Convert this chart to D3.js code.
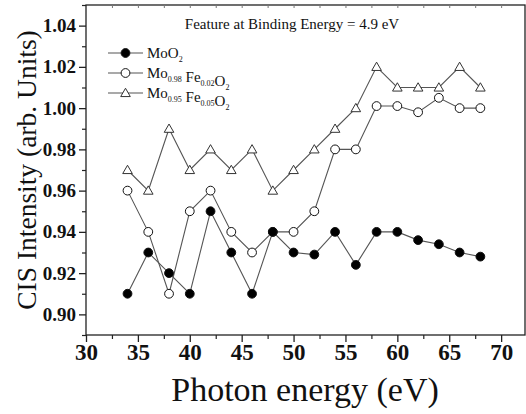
<!DOCTYPE html>
<html><head><meta charset="utf-8">
<script src="https://cdn.jsdelivr.net/npm/d3@7"></script>
<style>body{margin:0;background:#fff}svg{display:block}</style>
</head><body>
<svg id="c" width="526" height="414" style="font-family:'Liberation Serif','Times New Roman',serif"></svg>
<script>
const energies = [34,36,38,40,42,44,46,48,50,52,54,56,58,60,62,64,66,68];
const moo2 =   [0.91,0.93,0.92,0.91,0.95,0.93,0.91,0.94,0.93,0.929,0.94,0.924,0.94,0.94,0.936,0.934,0.93,0.928];
const fe002 =  [0.96,0.94,0.91,0.95,0.96,0.94,0.93,0.94,0.94,0.95,0.98,0.98,1.001,1.001,0.998,1.005,1.0,1.0];
const fe005 =  [0.97,0.96,0.99,0.97,0.98,0.97,0.98,0.96,0.97,0.98,0.99,1.00,1.02,1.01,1.01,1.01,1.02,1.01];
const xTicks = [30,35,40,45,50,55,60,65,70];
const yTicks = [0.90,0.92,0.94,0.96,0.98,1.00,1.02,1.04];

const FF = "'Liberation Serif','Times New Roman',serif";
const svg = d3.select("#c");
const L=86, R=525, T=5, B=335;
const x = d3.scaleLinear().domain([30,72.3]).range([L,R]);
const y = d3.scaleLinear().domain([0.89,1.05]).range([B,T]);

svg.append("rect").attr("x",L).attr("y",T).attr("width",R-L).attr("height",B-T)
  .attr("fill","none").attr("stroke","#222").attr("stroke-width",1.3);

const xAx = svg.append("g").attr("transform",`translate(0,${B})`)
  .call(d3.axisBottom(x).tickValues(xTicks).tickFormat(d3.format("d")).tickSize(7).tickPadding(2));
xAx.attr("font-family",FF);
xAx.select(".domain").remove();
xAx.selectAll("text").style("font-family",FF).style("font-size","23px").style("font-weight","bold").attr("fill","#111");
xAx.selectAll("line").attr("stroke","#222").attr("stroke-width",1.3);
const xMinor = svg.append("g").attr("transform",`translate(0,${B})`)
  .call(d3.axisBottom(x).tickValues(d3.range(32.5,72,5)).tickFormat("").tickSize(4));
xMinor.select(".domain").remove();
xMinor.selectAll("line").attr("stroke","#222").attr("stroke-width",1.2);
const xTop = svg.append("g").attr("transform",`translate(0,${T})`)
  .call(d3.axisTop(x).tickValues(d3.range(32.5,72.3,2.5)).tickFormat("").tickSize(-3));
xTop.select(".domain").remove();
xTop.selectAll("line").attr("stroke","#777").attr("stroke-width",1);

const yAx = svg.append("g").attr("transform",`translate(${L},0)`)
  .call(d3.axisLeft(y).tickValues(yTicks).tickFormat(d3.format(".2f")).tickSize(7).tickPadding(3));
yAx.attr("font-family",FF);
yAx.select(".domain").remove();
yAx.selectAll("text").style("font-family",FF).style("font-size","19px").style("font-weight","bold").attr("fill","#111");
yAx.selectAll("line").attr("stroke","#222").attr("stroke-width",1.3);
const yMinor = svg.append("g").attr("transform",`translate(${L},0)`)
  .call(d3.axisLeft(y).tickValues(d3.range(0.89,1.05,0.02).map(v=>+v.toFixed(2))).tickFormat("").tickSize(4));
yMinor.select(".domain").remove();
yMinor.selectAll("line").attr("stroke","#222").attr("stroke-width",1.2);

svg.append("text").attr("x",305).attr("y",401).attr("text-anchor","middle")
  .style("font-family",FF).style("font-size","34px").attr("fill","#111").text("Photon energy (eV)");
svg.append("text").attr("transform",`translate(36,170) rotate(-90)`).attr("text-anchor","middle")
  .style("font-family",FF).style("font-size","27.5px").attr("fill","#111").text("CIS Intensity (arb. Units)");

svg.append("text").attr("x",292).attr("y",29).attr("text-anchor","middle")
  .style("font-family",FF).style("font-size","15px").attr("fill","#111").text("Feature at Binding Energy = 4.9 eV");

const series = [
  {vals: fe005, shape:"tri", fill:"#fff"},
  {vals: fe002, shape:"circ", fill:"#fff"},
  {vals: moo2, shape:"circ", fill:"#000"}
];
const line = d3.line().x((d,i)=>x(energies[i])).y(d=>y(d));
const tri = d3.symbol().type(d3.symbolTriangle).size(40);
function drawMarker(g, shape, fill, cx, cy){
  if(shape==="circ"){
    g.append("circle").attr("cx",cx).attr("cy",cy).attr("r",4.4)
     .attr("fill",fill).attr("stroke","#111").attr("stroke-width",1);
  } else {
    g.append("path").attr("d",tri()).attr("transform",`translate(${cx},${cy+0.8})`)
     .attr("fill",fill).attr("stroke","#333").attr("stroke-width",1);
  }
}
series.forEach(s=>{
  svg.append("path").datum(s.vals).attr("d",line).attr("fill","none")
    .attr("stroke","#555").attr("stroke-width",1.1);
});
series.forEach(s=>{
  const g = svg.append("g");
  s.vals.forEach((v,i)=>drawMarker(g,s.shape,s.fill,x(energies[i]),y(v)));
});

const leg = [
  {shape:"circ", fill:"#000", parts:[["MoO","2"]]},
  {shape:"circ", fill:"#fff", parts:[["Mo","0.98"],[" Fe","0.02"],["O","2"]]},
  {shape:"tri", fill:"#fff", parts:[["Mo","0.95"],[" Fe","0.05"],["O","2"]]}
];
const legY=[53,73,93];
leg.forEach((l,i)=>{
  const yy=legY[i];
  const g=svg.append("g");
  g.append("line").attr("x1",108).attr("x2",143).attr("y1",yy).attr("y2",yy).attr("stroke","#555").attr("stroke-width",1.2);
  drawMarker(g,l.shape,l.fill,125.5,yy);
  const t=g.append("text").attr("x",147).attr("y",yy+5).style("font-family",FF).style("font-size","15px").attr("fill","#111");
  l.parts.forEach(p=>{
    t.append("tspan").attr("dy",0).text(p[0]);
    t.append("tspan").style("font-size","8px").attr("dy",4).text(p[1]);
    t.append("tspan").style("font-size","15px").attr("dy",-4).text("");
  });
});
</script>
</body></html>
